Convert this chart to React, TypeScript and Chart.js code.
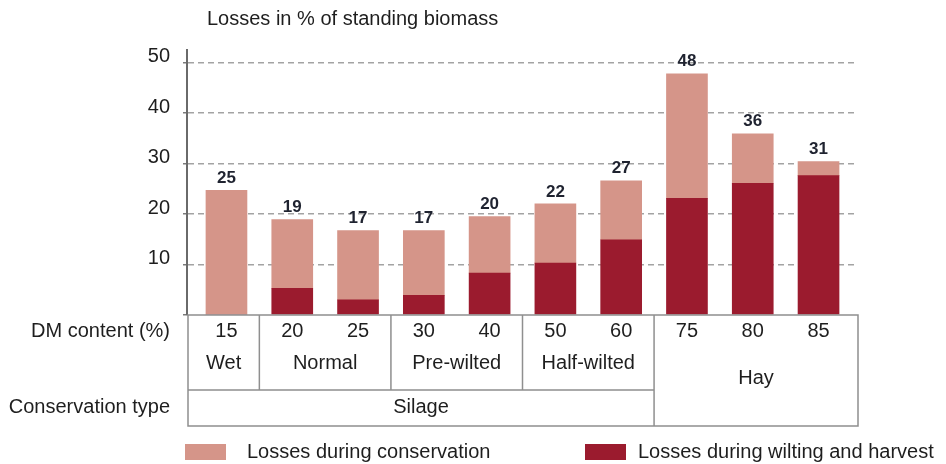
import React, { useEffect, useRef } from "react";
import { Chart, registerables } from "chart.js";

Chart.register(...registerables);

// ---- data ----
const dmContent = ["15", "20", "25", "30", "40", "50", "60", "75", "80", "85"];
const wiltingLosses = [0, 5.3, 3.0, 3.9, 8.3, 10.3, 14.9, 23.1, 26.1, 27.6];
const conservationLosses = [24.7, 13.6, 13.7, 12.8, 11.2, 11.7, 11.7, 24.7, 9.8, 2.8];
const totalLabels = ["25", "19", "17", "17", "20", "22", "27", "48", "36", "31"];
const yTickValues = [0, 10, 20, 30, 40, 50];
const subGroupLabels = ["Wet", "Normal", "Pre-wilted", "Half-wilted"];
const subGroupStart = [0, 1, 3, 5];
const subGroupEnd = [0, 2, 4, 6];
const mainGroupLabels = ["Silage", "Hay"];
const mainGroupStart = [0, 7];
const mainGroupEnd = [6, 9];
const titleText = "Losses in % of standing biomass";
const rowLabels = ["DM content (%)", "Conservation type"];
const seriesNames = ["Losses during wilting and harvest", "Losses during conservation"];

const PINK = "#D59589";
const DARK = "#9B1B2E";
const TEXT = "#1e1e1e";
const FONT = "'Liberation Sans', Arial, Helvetica, sans-serif";

const decorPlugin = {
  id: "decor",
  afterDraw(chart: any) {
    const ctx: CanvasRenderingContext2D = chart.ctx;
    const xs = chart.scales.x;
    const ys = chart.scales.y;
    const ca = chart.chartArea;
    ctx.save();

    // title
    ctx.fillStyle = TEXT;
    ctx.font = `20px ${FONT}`;
    ctx.textAlign = "left";
    ctx.textBaseline = "middle";
    ctx.fillText(titleText, 207, 19);

    // y tick labels (sit slightly above the grid lines)
    ctx.textAlign = "right";
    ctx.font = `20px ${FONT}`;
    yTickValues.forEach((v) => {
      if (v === 0) return;
      ctx.fillText(String(v), 170, ys.getPixelForValue(v) - 6);
    });

    // totals above the bars
    const topMeta = chart.getDatasetMeta(1);
    ctx.textAlign = "center";
    ctx.font = `bold 17px ${FONT}`;
    ctx.fillStyle = "#1f2330";
    topMeta.data.forEach((bar: any, i: number) => {
      ctx.fillText(totalLabels[i], bar.x, bar.y - 12);
    });

    // table
    const top = ys.getPixelForValue(0);
    const rowLine = top + 75;
    const bottom = top + 111;
    const edge = (i: number) => {
      if (i <= 0) return ca.left + 1;
      if (i >= dmContent.length) return ca.right;
      return xs.getPixelForValue(i - 0.5);
    };
    ctx.strokeStyle = "#8f8f8f";
    ctx.lineWidth = 1.5;
    ctx.beginPath();
    ctx.rect(edge(0), top, edge(dmContent.length) - edge(0), bottom - top);
    ctx.stroke();
    const split = edge(mainGroupStart[1]);
    ctx.beginPath();
    ctx.moveTo(split, top);
    ctx.lineTo(split, bottom);
    ctx.moveTo(edge(0), rowLine);
    ctx.lineTo(split, rowLine);
    for (let k = 1; k < subGroupStart.length; k++) {
      const xx = edge(subGroupStart[k]);
      ctx.moveTo(xx, top);
      ctx.lineTo(xx, rowLine);
    }
    ctx.stroke();

    ctx.fillStyle = TEXT;
    ctx.font = `20px ${FONT}`;
    ctx.textAlign = "center";
    dmContent.forEach((lab, i) => {
      ctx.fillText(lab, xs.getPixelForValue(i), top + 16);
    });
    subGroupLabels.forEach((lab, k) => {
      const cx = (edge(subGroupStart[k]) + edge(subGroupEnd[k] + 1)) / 2;
      ctx.fillText(lab, cx, top + 48);
    });
    {
      const cx = (edge(mainGroupStart[0]) + edge(mainGroupEnd[0] + 1)) / 2;
      ctx.fillText(mainGroupLabels[0], cx, top + 92);
      const hx = (edge(mainGroupStart[1]) + edge(mainGroupEnd[1] + 1)) / 2;
      ctx.fillText(mainGroupLabels[1], hx, top + 63);
    }
    ctx.textAlign = "right";
    ctx.fillText(rowLabels[0], 170, top + 16);
    ctx.fillText(rowLabels[1], 170, top + 92);

    // legend
    const legendY = 452;
    const items = [
      { color: PINK, text: seriesNames[1], box: 185, tx: 247 },
      { color: DARK, text: seriesNames[0], box: 585, tx: 638 },
    ];
    ctx.textAlign = "left";
    items.forEach((it) => {
      ctx.fillStyle = it.color;
      ctx.fillRect(it.box, legendY - 8, 41, 16);
      ctx.fillStyle = TEXT;
      ctx.fillText(it.text, it.tx, legendY);
    });

    ctx.restore();
  },
};

export default function App() {
  const ref = useRef<HTMLCanvasElement | null>(null);
  useEffect(() => {
    if (!ref.current) return;
    const chart = new Chart(ref.current, {
      type: "bar",
      data: {
        datasets: [
          {
            label: seriesNames[0],
            data: wiltingLosses.map((v, i) => ({ x: i, y: v })),
            backgroundColor: DARK,
            barThickness: 41,
          },
          {
            label: seriesNames[1],
            data: conservationLosses.map((v, i) => ({ x: i, y: v })),
            backgroundColor: PINK,
            barThickness: 41,
          },
        ],
      },
      options: {
        animation: false,
        responsive: true,
        maintainAspectRatio: false,
        layout: { padding: { left: 183, right: 88, top: 50, bottom: 149 } },
        plugins: {
          legend: { display: false },
          tooltip: { enabled: false },
          title: { display: false },
        },
        scales: {
          x: {
            type: "linear",
            min: -0.6,
            max: 9.6,
            offset: false,
            stacked: true,
            display: false,
          },
          y: {
            stacked: true,
            min: 0,
            max: 52.5,
            afterBuildTicks: (scale: any) => {
              scale.ticks = yTickValues.map((v) => ({ value: v }));
            },
            ticks: { display: false },
            border: { display: true, color: "#6a6a6a", width: 2, dash: [6, 4] },
            grid: {
              color: (c: any) => (c.tick && c.tick.value === 0 ? "rgba(0,0,0,0)" : "#a3a3a3"),
              lineWidth: 1.5,
              drawTicks: true,
              tickLength: 4,
              tickColor: "#7a7a7a",
            },
          },
        },
      },
      plugins: [decorPlugin],
    });
    return () => chart.destroy();
  }, []);
  return (
    <div style={{ position: "fixed", left: 0, top: 0, width: 946, height: 464, background: "#fff" }}>
      <canvas ref={ref} />
    </div>
  );
}
